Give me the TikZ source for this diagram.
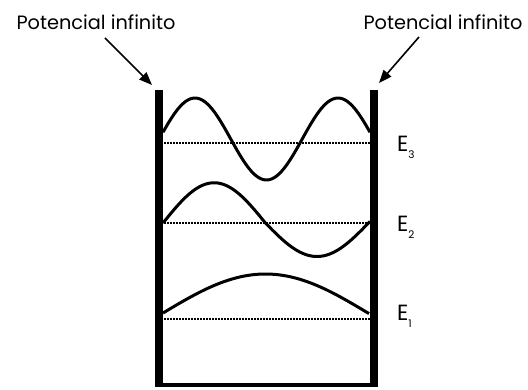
\documentclass[tikz,border=0pt]{standalone}
\usepackage{fontspec}
\setmainfont{Poppins}
\usetikzlibrary{arrows.meta}
\begin{document}
\begin{tikzpicture}[x=1pt,y=-1pt,
  lbl/.style={inner sep=0pt,font=\fontsize{19.3}{19.3}\selectfont},
  elbl/.style={inner sep=0pt,anchor=base west,font=\fontsize{22}{22}\selectfont},
  wall/.style={line width=8pt},
  floorline/.style={line width=3.5pt},
  level/.style={line width=1.5pt,dash pattern=on 1.5pt off 1.5pt},
  wave/.style={line width=3pt},
  ptr/.style={line width=1.6pt,-{Triangle[length=13pt,width=10pt]}}]
\useasboundingbox (0,0) rectangle (528,390);
% labels
\node[lbl] (lt) at (96,22) {Potencial infinito};
\node[lbl] (rt) at (443,22) {Potencial infinito};
\coordinate (ls) at (105,38);
\coordinate (le) at (152,85);
\coordinate (rs) at (419,37);
\coordinate (re) at (379,83);
\draw[ptr] (ls) -- (le);
\draw[ptr] (rs) -- (re);
% walls
\coordinate (lwt) at (159,90);
\coordinate (lwb) at (159,387);
\coordinate (rwt) at (374,90);
\coordinate (rwb) at (374,387);
\draw[floorline] (155,385) -- (378,385);
\draw[wall] (lwt) -- (lwb);
\draw[wall] (rwt) -- (rwb);
% levels
\draw[level] (164,143) -- (370,143);
\draw[level] (164,223) -- (370,223);
\draw[level] (164,319) -- (370,319);
% waves
\draw[wave] plot[domain=163:369,samples=60] (\x,{313-39*sin((\x-163)/205*180)});
\draw[wave] plot[domain=163:265,samples=40] (\x,{223-(\x-163)/102*0.5-40*sin((\x-163)/102*180)})
  -- plot[domain=265:370,samples=40] (\x,{222.5+34*sin((\x-265)/104*180)});
\draw[wave] plot[domain=163:370,samples=90] (\x,{139-41*cos((\x-195)/143*360)});
% energy labels
\node[elbl] (e3) at (397,152) {E\raisebox{-0.28em}{\fontsize{10.5}{10.5}\selectfont 3}};
\node[elbl] (e2) at (397,232) {E\raisebox{-0.28em}{\fontsize{10.5}{10.5}\selectfont 2}};
\node[elbl] (e1) at (397,321) {E\raisebox{-0.28em}{\fontsize{10.5}{10.5}\selectfont 1}};
\end{tikzpicture}
\end{document}
